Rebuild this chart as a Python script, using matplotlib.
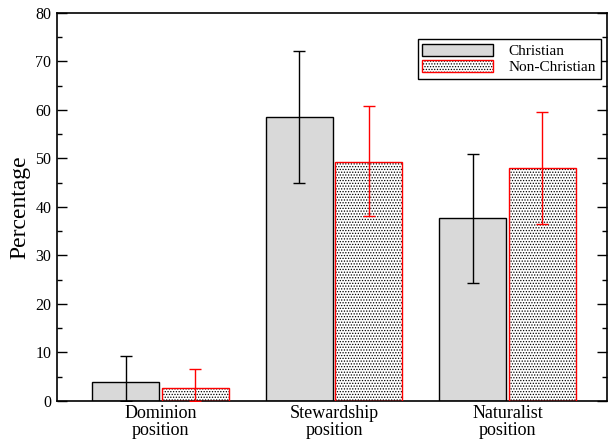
import matplotlib
matplotlib.use("Agg")
import matplotlib.pyplot as plt
from matplotlib.patches import Patch
from matplotlib.ticker import MultipleLocator
from matplotlib.legend_handler import HandlerTuple
import numpy as np

plt.rcParams['font.family'] = ['Liberation Serif', 'DejaVu Serif']
plt.rcParams['hatch.linewidth'] = 0.6

categories = ["Dominion\nposition", "Stewardship\nposition", "Naturalist\nposition"]
christian = [3.9, 58.6, 37.7]
christian_low = [0.0, 45.0, 24.3]
christian_high = [9.3, 72.2, 50.9]
nonchristian = [2.7, 49.3, 48.0]
nonchristian_low = [0.0, 38.1, 36.5]
nonchristian_high = [6.6, 60.8, 59.6]

fig = plt.figure(figsize=(6.08, 4.42), dpi=100)
ax = fig.add_axes([0.0938, 0.0928, 0.9045, 0.8778])

x = np.arange(len(categories))
w = 0.386
off = 0.2

c = np.array(christian); n = np.array(nonchristian)
ax.bar(x - off, c, width=w, color='#d9d9d9', edgecolor='black', linewidth=1.0, zorder=2)
ax.bar(x + off, n, width=w, color='white', edgecolor='black', linewidth=0, hatch='......', zorder=2)
ax.bar(x + off, n, width=w, fill=False, edgecolor='red', linewidth=1.0, zorder=3)

ax.errorbar(x - off, c, yerr=[c - np.array(christian_low), np.array(christian_high) - c],
            fmt='none', ecolor='black', elinewidth=1.0, capsize=4.5, capthick=1.0, zorder=4)
ax.errorbar(x + off, n, yerr=[n - np.array(nonchristian_low), np.array(nonchristian_high) - n],
            fmt='none', ecolor='red', elinewidth=1.0, capsize=4.5, capthick=1.0, zorder=4)

ax.set_xlim(-0.597, 2.573)
ax.set_ylim(0, 80)
ax.yaxis.set_major_locator(MultipleLocator(10))
ax.yaxis.set_minor_locator(MultipleLocator(5))
ax.tick_params(axis='y', which='both', direction='in', left=True, right=True, labelsize=11.5, pad=4)
ax.tick_params(axis='y', which='major', length=7, width=1)
ax.tick_params(axis='y', which='minor', length=3.5, width=1)
ax.set_xticks(x)
ax.set_xticklabels(categories, fontsize=13, linespacing=1.0)
ax.tick_params(axis='x', length=0, pad=3)
for s in ax.spines.values():
    s.set_linewidth(1.2)
ax.set_ylabel("Percentage", fontsize=17, labelpad=4)

h1 = Patch(facecolor='#d9d9d9', edgecolor='black', linewidth=1.0)
h2a = Patch(facecolor='white', edgecolor='black', linewidth=0, hatch='......')
h2b = Patch(fill=False, edgecolor='red', linewidth=1.0)
leg = ax.legend([h1, (h2a, h2b)], ["Christian", "Non-Christian"],
                handler_map={tuple: HandlerTuple(ndivide=1, pad=0)},
                loc='upper right', bbox_to_anchor=(0.9885, 0.932), fontsize=11,
                fancybox=False, framealpha=1, edgecolor='black', handlelength=4.6,
                handleheight=0.85, handletextpad=1.05, borderaxespad=0, borderpad=0.3,
                labelspacing=0.1)
leg.get_frame().set_linewidth(1.0)

fig.savefig("out.png", dpi=100)
